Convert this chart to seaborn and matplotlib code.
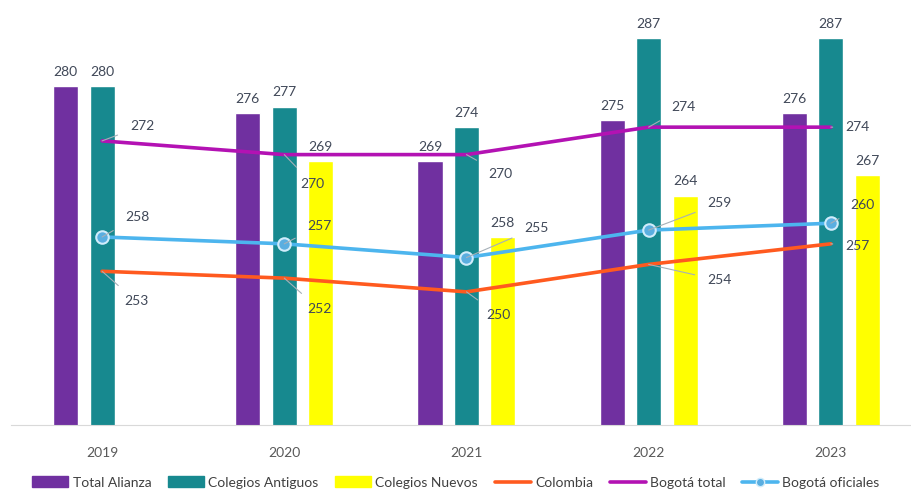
import numpy as np
import pandas as pd
import matplotlib
matplotlib.use("Agg")
import matplotlib.pyplot as plt
from matplotlib.patches import Patch
from matplotlib.lines import Line2D
import seaborn as sns

# ── Data ──────────────────────────────────────
years = ["2019", "2020", "2021", "2022", "2023"]
total_alianza = [280, 276, 269, 275, 276]
colegios_antiguos = [280, 277, 274, 287, 287]
colegios_nuevos = [np.nan, 269, 258, 264, 267]
colombia = [253, 252, 250, 254, 257]
bogota_total = [272, 270, 270, 274, 274]
bogota_oficiales = [258, 257, 255, 259, 260]

bar_series = ["Total Alianza", "Colegios Antiguos", "Colegios Nuevos"]
bar_colors = ["#7030A0", "#17898F", "#FFFF00"]
line_colors = {"Colombia": "#FF5A1F", "Bogotá total": "#B312B3", "Bogotá oficiales": "#4DB5EE"}

# label offsets (pixels) for the line data labels
off_total = [(40, 15), (28, -29), (34, -19), (35, 20), (27, 0)]
off_ofic = [(35, 20), (35, 18), (70, 30), (71, 27), (32, 18)]
off_col = [(34, -30), (35, -31), (32, -23), (71, -16), (27, -2)]

LABEL = "#404858"

sns.set_style("white")
plt.rcParams["font.family"] = ["Lato", "DejaVu Sans"]

bars_df = pd.DataFrame({
    "year": years * 3,
    "serie": [s for s in bar_series for _ in years],
    "value": total_alianza + colegios_antiguos + colegios_nuevos,
})

fig = plt.figure(figsize=(9.12, 4.92), dpi=100)
ax = fig.add_axes([11 / 912, 67 / 492, 900 / 912, 420 / 492])

sns.barplot(data=bars_df, x="year", y="value", hue="serie", hue_order=bar_series,
            order=years, palette=bar_colors, width=0.6, gap=0.31, errorbar=None,
            saturation=1, legend=False, ax=ax)

for cont in ax.containers:
    ax.bar_label(cont, fmt="%.0f", padding=6, fontsize=10, color=LABEL)

xs = np.arange(len(years))


def draw_line(vals, name, offsets, **kw):
    sns.lineplot(x=xs, y=vals, color=line_colors[name], lw=2.6, ax=ax,
                 legend=False, zorder=4, **kw)
    for x, v, (dx, dy) in zip(xs, vals, offsets):
        long = np.hypot(dx, dy) > 25
        ax.annotate(f"{v}", (x, v), xytext=(dx, dy), textcoords="offset pixels",
                    ha="center", va="center", fontsize=10, color=LABEL, zorder=6,
                    arrowprops=dict(arrowstyle="-", color="#A6B0B8", lw=0.8,
                                    shrinkA=7, shrinkB=0) if long else None)


draw_line(colombia, "Colombia", off_col)
draw_line(bogota_total, "Bogotá total", off_total)
draw_line(bogota_oficiales, "Bogotá oficiales", off_ofic, marker="o", markersize=9,
          markerfacecolor="#5AAEE0", markeredgecolor="#D0ECFB", markeredgewidth=1.5)

ax.set_xlim(-0.5, 4.44)
ax.set_ylim(230.6, 291.8)
ax.set_xlabel("")
ax.set_ylabel("")
ax.set_yticks([])
for s in ["top", "left", "right"]:
    ax.spines[s].set_visible(False)
ax.spines["bottom"].set_color("#D9D9D9")
ax.tick_params(axis="x", length=0, pad=16, labelsize=10, labelcolor="#595959")

handles = [Patch(color=c, label=s) for s, c in zip(bar_series, bar_colors)]
handles += [Line2D([], [], color=line_colors["Colombia"], lw=2.6, label="Colombia"),
            Line2D([], [], color=line_colors["Bogotá total"], lw=2.6, label="Bogotá total"),
            Line2D([], [], color=line_colors["Bogotá oficiales"], lw=2.6, marker="o",
                   markersize=6, markerfacecolor="#5AAEE0", markeredgecolor="#D0ECFB",
                   label="Bogotá oficiales")]
fig.legend(handles=handles, loc="center", bbox_to_anchor=(0.5, 9 / 492 + 0.001),
           ncol=6, frameon=False, fontsize=10, labelcolor="#404040",
           handlelength=2.6, handleheight=0.8, handletextpad=0.3, columnspacing=1.2)

fig.savefig("out.png", dpi=100)
